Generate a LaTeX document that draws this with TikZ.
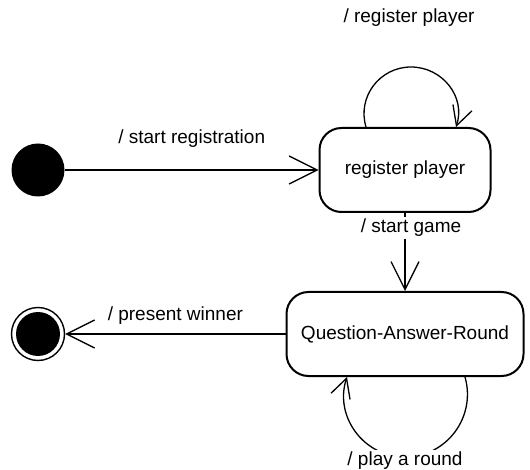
\documentclass[tikz,border=0pt]{standalone}
\usepackage{fontspec}
\setmainfont{Liberation Sans}
\usetikzlibrary{positioning, arrows.meta}

\begin{document}
\begin{tikzpicture}[
    x=0.5pt, y=-0.5pt,
    font=\fontsize{9.5}{11}\selectfont,
    state/.style={draw, rounded corners=11pt, minimum height=42pt,
                  line width=1pt, align=center, inner sep=0pt},
    initstate/.style={circle, fill=black, minimum size=26.5pt, inner sep=0pt},
    finalstate/.style={circle, draw, line width=0.7pt, minimum size=26.5pt,
                  inner sep=0pt,
                  path picture={\fill[black] (path picture bounding box.center) circle (11pt);}},
    arrow/.style={-{Straight Barb[length=14pt, width=14pt]}, line width=0.65pt},
    looparrow/.style={-{Straight Barb[length=9.5pt, width=10pt]}, line width=0.65pt},
    trans/.style={fill=white, inner sep=1pt},
]

\useasboundingbox (0,0) rectangle (530,470);

% === States ===
\node[initstate] (init) at (38,170) {};
\node[state, minimum width=85.5pt] (reg) at (405,170) {register player};
\node[state, minimum width=118.5pt] (qar) at (405,334) {Question-Answer-Round};
\node[finalstate] (final) at (38,334) {};

% === Transitions ===
\draw[arrow] (init) -- node[midway, yshift=15.5pt] {/ start registration} (reg);
\draw[arrow] (reg) -- node[trans, pos=0.19, xshift=3pt] {/ start game} (qar);
\draw[arrow] (qar) -- node[midway, yshift=9pt] {/ present winner} (final);

% === Self loops ===
\draw[looparrow] ([xshift=-19.5pt]reg.north)
  .. controls +(-4.5pt,15pt) and +(-15.7pt,0pt) .. ([xshift=3pt, yshift=30pt]reg.north)
  node[trans, xshift=-1pt, yshift=24.5pt] {/ register player}
  .. controls +(15.7pt,0pt) and +(5pt,15pt) .. ([xshift=25.5pt]reg.north);

\draw[looparrow] ([xshift=30pt]qar.south)
  .. controls +(5.7pt,-20pt) and +(20.8pt,0pt) .. ([yshift=-40pt]qar.south)
  node[trans, yshift=-2pt] {/ play a round}
  .. controls +(-20.8pt,0pt) and +(-6.5pt,-19.5pt) .. ([xshift=-29pt]qar.south);

\end{tikzpicture}
\end{document}
